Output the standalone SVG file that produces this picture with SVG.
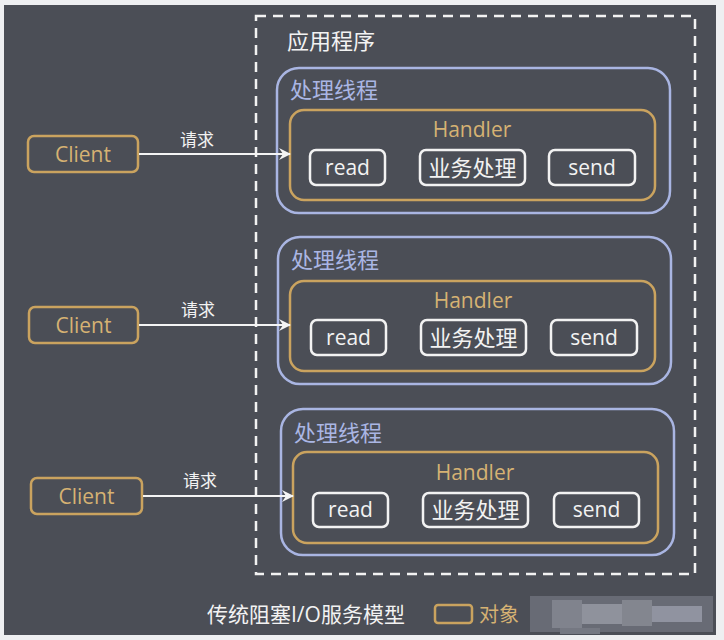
<svg xmlns="http://www.w3.org/2000/svg" width="724" height="640" viewBox="0 0 724 640">
<style>
.txt{font-family:"Open Sans","Noto Sans CJK SC",sans-serif}
.cjk{font-family:"Noto Sans CJK SC","Noto Sans",sans-serif}
.thread{fill:none;stroke:#a9b5e2;stroke-width:2.5}
.handler{fill:none;stroke:#caa35f;stroke-width:2.5}
.inner{fill:none;stroke:#f2f2f2;stroke-width:2.5}
.client{fill:none;stroke:#caa35f;stroke-width:2.5}
.w{fill:#f2f2f2}
.gold{fill:#d6b273}
.lav{fill:#aab6e4}
.conn{stroke:#f4f4f4;stroke-width:2;fill:none}
</style>
<defs>
<marker id="arr" markerWidth="12" markerHeight="12" refX="11" refY="6" orient="auto" markerUnits="userSpaceOnUse">
<path d="M0,0 L12,6 L0,12 L4,6 z" fill="#f4f4f4"/>
</marker>
</defs>
<rect x="0" y="0" width="724" height="640" fill="#eeeff1"/>
<rect x="4" y="5" width="712" height="630" fill="#4b4e56"/>

<g id="app">
<rect x="256" y="16" width="439" height="558" fill="none" stroke="#f2f2f2" stroke-width="2.5" stroke-dasharray="10 7"/>
<text class="cjk w" x="287" y="49" font-size="22">应用程序</text>
</g>

<g id="thread1">
<rect class="thread" x="277" y="68" width="393" height="145" rx="22"/>
<text class="cjk lav" x="290" y="98" font-size="22">处理线程</text>
<g id="handler1">
<rect class="handler" x="290" y="110" width="365" height="90" rx="14"/>
<text class="txt gold" x="472" y="137" font-size="21" text-anchor="middle">Handler</text>
</g>
<g id="read1"><rect class="inner" x="310" y="150" width="75" height="35" rx="6"/><text class="txt w" x="347.5" y="175" font-size="21" text-anchor="middle">read</text></g>
<g id="biz1"><rect class="inner" x="420" y="150" width="105" height="35" rx="6"/><text class="cjk w" x="472.5" y="175.5" font-size="22" text-anchor="middle">业务处理</text></g>
<g id="send1"><rect class="inner" x="549" y="150" width="86" height="35" rx="6"/><text class="txt w" x="592" y="175" font-size="21" text-anchor="middle">send</text></g>
</g>

<g id="thread2">
<rect class="thread" x="278" y="237" width="393" height="147" rx="22"/>
<text class="cjk lav" x="291" y="268" font-size="22">处理线程</text>
<g id="handler2">
<rect class="handler" x="290" y="281" width="365" height="90" rx="14"/>
<text class="txt gold" x="473" y="308" font-size="21" text-anchor="middle">Handler</text>
</g>
<g id="read2"><rect class="inner" x="311" y="320" width="75" height="35" rx="6"/><text class="txt w" x="348.5" y="345" font-size="21" text-anchor="middle">read</text></g>
<g id="biz2"><rect class="inner" x="421" y="320" width="105" height="35" rx="6"/><text class="cjk w" x="473.5" y="345.5" font-size="22" text-anchor="middle">业务处理</text></g>
<g id="send2"><rect class="inner" x="551" y="320" width="86" height="35" rx="6"/><text class="txt w" x="594" y="345" font-size="21" text-anchor="middle">send</text></g>
</g>

<g id="thread3">
<rect class="thread" x="281" y="409" width="393" height="146" rx="22"/>
<text class="cjk lav" x="294" y="441" font-size="22">处理线程</text>
<g id="handler3">
<rect class="handler" x="293" y="452" width="365" height="91" rx="14"/>
<text class="txt gold" x="475" y="480" font-size="21" text-anchor="middle">Handler</text>
</g>
<g id="read3"><rect class="inner" x="313" y="493" width="75" height="34" rx="6"/><text class="txt w" x="350.5" y="517" font-size="21" text-anchor="middle">read</text></g>
<g id="biz3"><rect class="inner" x="423" y="493" width="105" height="34" rx="6"/><text class="cjk w" x="475.5" y="517.5" font-size="22" text-anchor="middle">业务处理</text></g>
<g id="send3"><rect class="inner" x="554" y="493" width="85" height="34" rx="6"/><text class="txt w" x="596.5" y="517" font-size="21" text-anchor="middle">send</text></g>
</g>

<g id="client1"><rect class="client" x="28" y="136" width="110" height="36" rx="6"/><text class="txt gold" x="83" y="162" font-size="21" text-anchor="middle">Client</text></g>
<g id="client2"><rect class="client" x="29" y="307" width="109" height="36" rx="6"/><text class="txt gold" x="83.5" y="333" font-size="21" text-anchor="middle">Client</text></g>
<g id="client3"><rect class="client" x="31" y="478" width="111" height="36" rx="6"/><text class="txt gold" x="86.5" y="504" font-size="21" text-anchor="middle">Client</text></g>

<g id="connectors">
<line class="conn" x1="139" y1="154" x2="290" y2="154" marker-end="url(#arr)"/>
<text class="cjk w" x="197" y="146" font-size="17" text-anchor="middle">请求</text>
<line class="conn" x1="139" y1="325" x2="290" y2="325" marker-end="url(#arr)"/>
<text class="cjk w" x="198" y="316" font-size="17" text-anchor="middle">请求</text>
<line class="conn" x1="143" y1="496" x2="293" y2="496" marker-end="url(#arr)"/>
<text class="cjk w" x="200" y="487" font-size="17" text-anchor="middle">请求</text>
</g>

<g id="legend">
<text class="txt w" x="207" y="622" font-size="21">传统阻塞I/O服务模型</text>
<rect x="435" y="605" width="37" height="18" rx="3" fill="none" stroke="#caa35f" stroke-width="2.5"/>
<text class="cjk gold" x="479" y="622" font-size="20">对象</text>
</g>

<g id="mosaic">
<rect x="530" y="596" width="183" height="36" fill="#686b75"/>
<rect x="552" y="600" width="30" height="28" fill="#80838d"/>
<rect x="582" y="604" width="40" height="20" fill="#8f929c"/>
<rect x="622" y="600" width="30" height="26" fill="#83868f"/>
<rect x="652" y="606" width="50" height="16" fill="#9093a0"/>
<rect x="560" y="628" width="40" height="6" fill="#757882"/>
</g>
</svg>
